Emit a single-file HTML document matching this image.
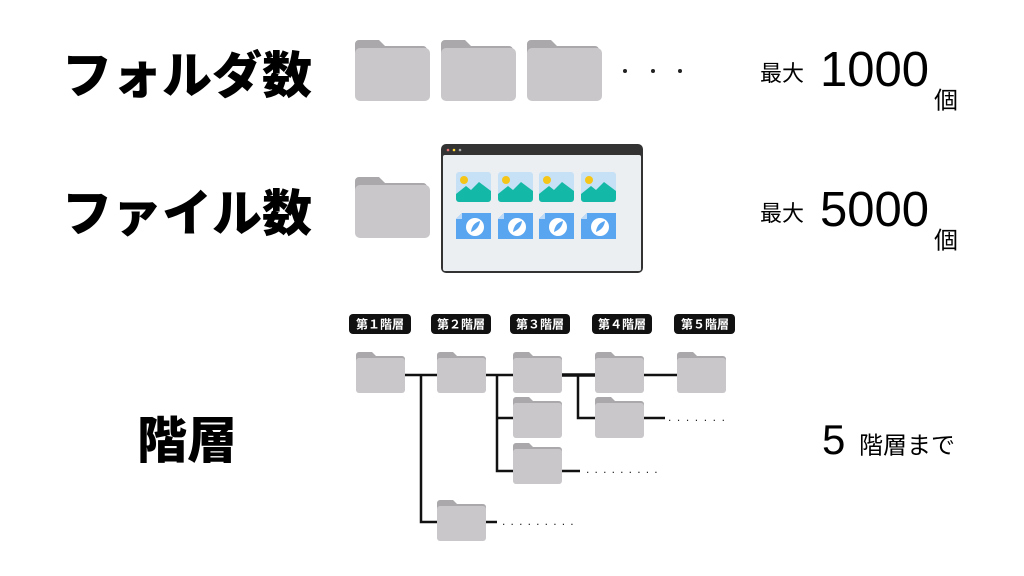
<!DOCTYPE html>
<html><head><meta charset="utf-8"><style>
html,body{margin:0;padding:0;background:#fff;width:1024px;height:576px;overflow:hidden}
svg{display:block}
text{font-family:"Liberation Sans","Noto Sans CJK JP",sans-serif}
.big{font-family:"Noto Sans CJK JP",sans-serif;font-weight:900;font-size:50px}
.jp{font-family:"Noto Sans CJK JP",sans-serif}
</style></head><body>
<svg width="1024" height="576" viewBox="0 0 1024 576" xmlns="http://www.w3.org/2000/svg">
<defs>
<g id="fold">
<path d="M0 4 a4 4 0 0 1 4 -4 H24 l6 6 H68 a4 4 0 0 1 4 4 V20 H0 Z" fill="#aaa8aa"/>
<rect x="0" y="8" width="75" height="53" rx="5" fill="#c9c7c9"/>
</g>
<g id="sf">
<path d="M0 3 a3 3 0 0 1 3 -3 H16 l4 4 H46 a3 3 0 0 1 3 3 V14 H0 Z" fill="#aaa8aa"/>
<rect x="0" y="6" width="49" height="35" rx="3" fill="#c9c7c9"/>
</g>
<g id="img">
<rect width="35" height="30" rx="3" fill="#c6e0f5"/>
<circle cx="8" cy="8" r="4" fill="#f5c518"/>
<path d="M0 22 L10 14 L15 18 L23 10 L35 19 V27 a3 3 0 0 1 -3 3 H3 a3 3 0 0 1 -3 -3Z" fill="#14b8a6"/>
</g>
<g id="doc">
<path d="M6 0 H35 V26 H0 V6 Z" fill="#5aa5f0"/>
<path d="M0 6 L6 0 V6 Z" fill="#bcd9f7"/>
<circle cx="19" cy="14" r="9" fill="#fff"/>
<path d="M15 19 Q16 10 24 8 Q23 16 15 19Z" fill="#5aa5f0"/>
</g>
</defs>

<text class="big" x="62" y="72" dominant-baseline="central">フォルダ数</text>
<text class="big" x="62" y="210" dominant-baseline="central">ファイル数</text>
<text class="big" x="137" y="437" dominant-baseline="central">階層</text>

<use href="#fold" x="355" y="40"/>
<use href="#fold" x="441" y="40"/>
<use href="#fold" x="527" y="40"/>
<circle cx="625" cy="71" r="2" fill="#222"/>
<circle cx="653" cy="71" r="2" fill="#222"/>
<circle cx="680" cy="71" r="2" fill="#222"/>

<use href="#fold" x="355" y="177"/>
<rect x="441" y="144" width="202" height="129" rx="5" fill="#333"/>
<rect x="443" y="155" width="198" height="116" rx="2" fill="#eceff1"/>
<circle cx="448" cy="150" r="1.3" fill="#e57373"/><circle cx="454" cy="150" r="1.3" fill="#fdd835"/><circle cx="460" cy="150" r="1.3" fill="#aaa"/>
<use href="#img" x="456" y="172"/><use href="#img" x="498" y="172"/><use href="#img" x="539" y="172"/><use href="#img" x="581" y="172"/>
<use href="#doc" x="456" y="213"/><use href="#doc" x="498" y="213"/><use href="#doc" x="539" y="213"/><use href="#doc" x="581" y="213"/>

<text class="jp" x="760" y="72" font-size="22" dominant-baseline="central">最大</text>
<text x="820" y="86" font-size="49">1000</text>
<text class="jp" x="934" y="98" font-size="24" dominant-baseline="central">個</text>
<text class="jp" x="760" y="212" font-size="22" dominant-baseline="central">最大</text>
<text x="820" y="226" font-size="49">5000</text>
<text class="jp" x="934" y="238" font-size="24" dominant-baseline="central">個</text>

<text x="822" y="454" font-size="42">5</text>
<text class="jp" x="859" y="443" font-size="24" dominant-baseline="central">階層まで</text>

<g font-size="12" font-weight="bold" fill="#fff" class="jp" text-anchor="middle">
<rect x="349" y="314" width="62" height="20" rx="4" fill="#111"/><text x="380" y="324" dominant-baseline="central" class="jp">第１階層</text>
<rect x="431" y="314" width="60" height="20" rx="4" fill="#111"/><text x="461" y="324" dominant-baseline="central" class="jp">第２階層</text>
<rect x="510" y="314" width="60" height="20" rx="4" fill="#111"/><text x="540" y="324" dominant-baseline="central" class="jp">第３階層</text>
<rect x="592" y="314" width="60" height="20" rx="4" fill="#111"/><text x="622" y="324" dominant-baseline="central" class="jp">第４階層</text>
<rect x="674" y="314" width="61" height="20" rx="4" fill="#111"/><text x="705" y="324" dominant-baseline="central" class="jp">第５階層</text>
</g>

<g stroke="#111" stroke-width="2.5" fill="none">
<path d="M405 375 H437"/>
<path d="M421 375 V522 H437"/>
<path d="M486 375 H513"/>
<path d="M497 375 V471 H513"/>
<path d="M497 418 H513"/>
<path d="M562 375 H595" stroke-width="3.5"/>
<path d="M578 375 V418 H595"/>
<path d="M644 375 H677"/>
<path d="M644 418 H665"/>
<path d="M562 471 H580"/>
<path d="M486 522 H497"/>
</g>
<g fill="#222">
<text x="668" y="421" font-size="12" letter-spacing="5.6">.......</text>
<text x="586" y="473" font-size="12" letter-spacing="5.2">.........</text>
<text x="502" y="525" font-size="12" letter-spacing="5.2">.........</text>
</g>

<use href="#sf" x="356" y="352"/>
<use href="#sf" x="437" y="352"/>
<use href="#sf" x="513" y="352"/>
<use href="#sf" x="595" y="352"/>
<use href="#sf" x="677" y="352"/>
<use href="#sf" x="513" y="397"/>
<use href="#sf" x="595" y="397"/>
<use href="#sf" x="513" y="443"/>
<use href="#sf" x="437" y="500"/>
</svg>
</body></html>
